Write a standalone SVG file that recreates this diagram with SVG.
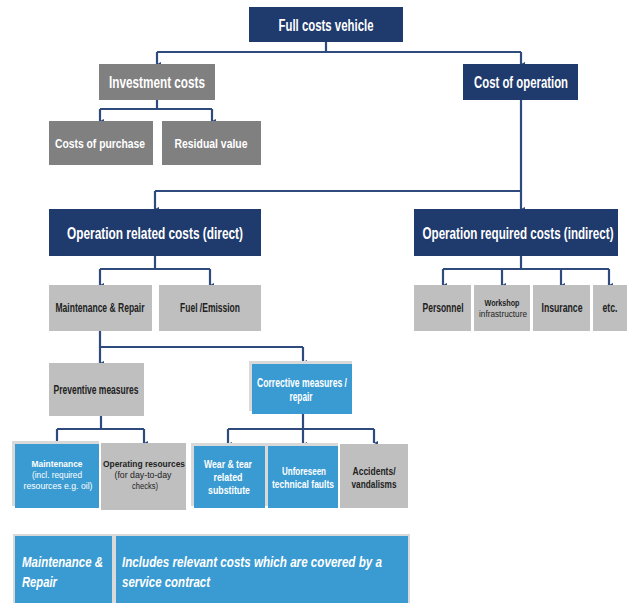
<svg xmlns="http://www.w3.org/2000/svg" width="630" height="603" viewBox="0 0 630 603">
<style>
text{font-family:"Liberation Sans",Arial,sans-serif;font-weight:bold;text-anchor:middle}
.navy{fill:#1f3a6c}
.dgray{fill:#808080}
.lgray{fill:#bfbfbf}
.blue{fill:#3a9bd2}
.sh{fill:#d9d9d9}
.w{fill:#ffffff}
.k{fill:#222222}
.n{font-weight:normal}
.big{font-size:11.6px}
.mid{font-size:10.3px}
.sm{font-size:8.5px}
.it{font-style:italic;text-anchor:start;font-size:11.5px}
.c{fill:none;stroke:#2f4a7c;stroke-width:2.2}
</style>
<defs>
<marker id="ah" viewBox="0 0 8 8" refX="4" refY="8" markerWidth="4" markerHeight="4" markerUnits="userSpaceOnUse" orient="auto-start-reverse">
<path d="M0,0 L8,0 L4,8 Z" fill="#2f4a7c"/>
</marker>
</defs>
<g id="connectors">
<path class="c" d="M326,42 V52 M157,52 H521" />
<path class="c" d="M157,52 V64" marker-end="url(#ah)"/>
<path class="c" d="M521,52 V64" marker-end="url(#ah)"/>
<path class="c" d="M157,100 V109 M100,109 H212"/>
<path class="c" d="M100,109 V121" marker-end="url(#ah)"/>
<path class="c" d="M212,109 V121" marker-end="url(#ah)"/>
<path class="c" d="M521,100 V191 M155,191 H521"/>
<path class="c" d="M155,191 V209" marker-end="url(#ah)"/>
<path class="c" d="M521,191 V209" marker-end="url(#ah)"/>
<path class="c" d="M155,256 V269 M100,269 H210"/>
<path class="c" d="M100,269 V285" marker-end="url(#ah)"/>
<path class="c" d="M210,269 V285" marker-end="url(#ah)"/>
<path class="c" d="M521,256 V269 M443,269 H609"/>
<path class="c" d="M443,269 V285" marker-end="url(#ah)"/>
<path class="c" d="M502,269 V285" marker-end="url(#ah)"/>
<path class="c" d="M561,269 V285" marker-end="url(#ah)"/>
<path class="c" d="M609,269 V285" marker-end="url(#ah)"/>
<path class="c" d="M100,331 V347 H303"/>
<path class="c" d="M100,347 V363" marker-end="url(#ah)"/>
<path class="c" d="M303,347 V362" marker-end="url(#ah)"/>
<path class="c" d="M101,416 V429 M57,429 H144"/>
<path class="c" d="M57,429 V444" marker-end="url(#ah)"/>
<path class="c" d="M144,429 V443" marker-end="url(#ah)"/>
<path class="c" d="M303,414 V429 M228,429 H374"/>
<path class="c" d="M228,429 V444" marker-end="url(#ah)"/>
<path class="c" d="M303,429 V444" marker-end="url(#ah)"/>
<path class="c" d="M374,429 V443" marker-end="url(#ah)"/>
</g>
<g id="full-costs"><rect class="navy" x="249" y="7" width="154" height="35"/><text class="w big" transform="translate(326 31) scale(1 1.38)" textLength="95" lengthAdjust="spacingAndGlyphs">Full costs vehicle</text></g>
<g id="investment"><rect class="dgray" x="99" y="64" width="116" height="36"/><text class="w big" transform="translate(157 88) scale(1 1.38)" textLength="96" lengthAdjust="spacingAndGlyphs">Investment costs</text></g>
<g id="operation"><rect class="navy" x="463" y="64" width="115" height="36"/><text class="w big" transform="translate(521 88) scale(1 1.38)" textLength="94" lengthAdjust="spacingAndGlyphs">Cost of operation</text></g>
<g id="purchase"><rect class="dgray" x="49" y="121" width="104" height="44"/><text class="w mid" transform="translate(100 148) scale(1 1.31)" textLength="90" lengthAdjust="spacingAndGlyphs">Costs of purchase</text></g>
<g id="residual"><rect class="dgray" x="162" y="121" width="99" height="44"/><text class="w mid" transform="translate(211 148) scale(1 1.31)" textLength="73" lengthAdjust="spacingAndGlyphs">Residual value</text></g>
<g id="direct"><rect class="navy" x="49" y="209" width="212" height="47"/><text class="w big" transform="translate(155 239) scale(1 1.38)" textLength="176" lengthAdjust="spacingAndGlyphs">Operation related costs (direct)</text></g>
<g id="indirect"><rect class="navy" x="414" y="209" width="204" height="47"/><text class="w big" transform="translate(518 239) scale(1 1.38)" textLength="191" lengthAdjust="spacingAndGlyphs">Operation required costs (indirect)</text></g>
<g id="maint-repair"><rect class="lgray" x="49" y="285" width="103" height="46"/><text class="k sm" transform="translate(100 312) scale(1 1.41)" textLength="89" lengthAdjust="spacingAndGlyphs">Maintenance &amp; Repair</text></g>
<g id="fuel"><rect class="lgray" x="159" y="285" width="102" height="46"/><text class="k sm" transform="translate(210 312) scale(1 1.41)" textLength="60" lengthAdjust="spacingAndGlyphs">Fuel /Emission</text></g>
<g id="personnel"><rect class="lgray" x="414" y="285" width="57" height="46"/><text class="k sm" transform="translate(443 312) scale(1 1.41)" textLength="41" lengthAdjust="spacingAndGlyphs">Personnel</text></g>
<g id="workshop"><rect class="lgray" x="474" y="285" width="56" height="46"/><text class="k" font-size="7.2" transform="translate(502 306) scale(1 1.26)" textLength="35" lengthAdjust="spacingAndGlyphs">Workshop</text><text class="k n" font-size="8.2" transform="translate(503 317) scale(1 1.12)" textLength="48" lengthAdjust="spacingAndGlyphs">infrastructure</text></g>
<g id="insurance"><rect class="lgray" x="533" y="285" width="57" height="46"/><text class="k sm" transform="translate(562 312) scale(1 1.41)" textLength="41" lengthAdjust="spacingAndGlyphs">Insurance</text></g>
<g id="etc"><rect class="lgray" x="593" y="285" width="34" height="46"/><text class="k sm" transform="translate(610 312) scale(1 1.41)" textLength="15" lengthAdjust="spacingAndGlyphs">etc.</text></g>
<g id="preventive"><rect class="lgray" x="49" y="363" width="95" height="53"/><text class="k sm" transform="translate(96 394) scale(1 1.41)" textLength="85" lengthAdjust="spacingAndGlyphs">Preventive measures</text></g>
<g id="corrective"><rect class="sh" x="249" y="361" width="103" height="50"/><rect class="blue" x="252" y="364" width="100" height="50"/><text class="w sm" transform="translate(302 387) scale(1 1.41)" textLength="90" lengthAdjust="spacingAndGlyphs">Corrective measures /</text><text class="w sm" transform="translate(301 401) scale(1 1.41)" textLength="23" lengthAdjust="spacingAndGlyphs">repair</text></g>
<g id="maintenance"><rect class="sh" x="12" y="441" width="87" height="65"/><rect class="blue" x="15" y="444" width="84" height="64"/><text class="w sm" transform="translate(57 467) scale(1 1.1)" textLength="51" lengthAdjust="spacingAndGlyphs">Maintenance</text><text class="w sm n" transform="translate(57 478) scale(1 1.1)" textLength="50" lengthAdjust="spacingAndGlyphs">(incl. required</text><text class="w sm n" transform="translate(58 489) scale(1 1.1)" textLength="69" lengthAdjust="spacingAndGlyphs">resources e.g. oil)</text></g>
<g id="operating-resources"><rect class="lgray" x="101" y="443" width="85" height="67"/><text class="k sm" transform="translate(144 467) scale(1 1.1)" textLength="82" lengthAdjust="spacingAndGlyphs">Operating resources</text><text class="k sm n" transform="translate(143 478) scale(1 1.1)" textLength="57" lengthAdjust="spacingAndGlyphs">(for day-to-day</text><text class="k sm n" transform="translate(145 489) scale(1 1.1)" textLength="26" lengthAdjust="spacingAndGlyphs">checks)</text></g>
<g id="wear"><rect class="sh" x="191" y="443" width="74" height="63"/><rect class="blue" x="194" y="446" width="71" height="62"/><text class="w sm" transform="translate(228 468) scale(1 1.35)" textLength="48" lengthAdjust="spacingAndGlyphs">Wear &amp; tear</text><text class="w sm" transform="translate(228 481) scale(1 1.35)" textLength="29" lengthAdjust="spacingAndGlyphs">related</text><text class="w sm" transform="translate(229 494) scale(1 1.35)" textLength="42" lengthAdjust="spacingAndGlyphs">substitute</text></g>
<g id="unforeseen"><rect class="sh" x="265" y="443" width="73" height="63"/><rect class="blue" x="268" y="446" width="70" height="62"/><text class="w sm" transform="translate(304 475) scale(1 1.35)" textLength="44" lengthAdjust="spacingAndGlyphs">Unforeseen</text><text class="w sm" transform="translate(303 488) scale(1 1.35)" textLength="62" lengthAdjust="spacingAndGlyphs">technical faults</text></g>
<g id="accidents"><rect class="lgray" x="340" y="444" width="68" height="64"/><text class="k sm" transform="translate(374 475) scale(1 1.35)" textLength="43" lengthAdjust="spacingAndGlyphs">Accidents/</text><text class="k sm" transform="translate(374 488) scale(1 1.35)" textLength="45" lengthAdjust="spacingAndGlyphs">vandalisms</text></g>
<g id="legend">
<rect class="sh" x="13" y="534" width="397" height="69"/>
<rect class="blue" x="15" y="536" width="97" height="67"/>
<rect class="blue" x="116" y="536" width="292" height="67"/>
<text class="w it" transform="translate(22 567) scale(1 1.3)" textLength="81" lengthAdjust="spacingAndGlyphs">Maintenance &amp;</text>
<text class="w it" transform="translate(22 587) scale(1 1.3)" textLength="35" lengthAdjust="spacingAndGlyphs">Repair</text>
<text class="w it" transform="translate(122 567) scale(1 1.3)" textLength="260" lengthAdjust="spacingAndGlyphs">Includes relevant costs which are covered by a</text>
<text class="w it" transform="translate(122 587) scale(1 1.3)" textLength="88" lengthAdjust="spacingAndGlyphs">service contract</text>
</g>
</svg>
